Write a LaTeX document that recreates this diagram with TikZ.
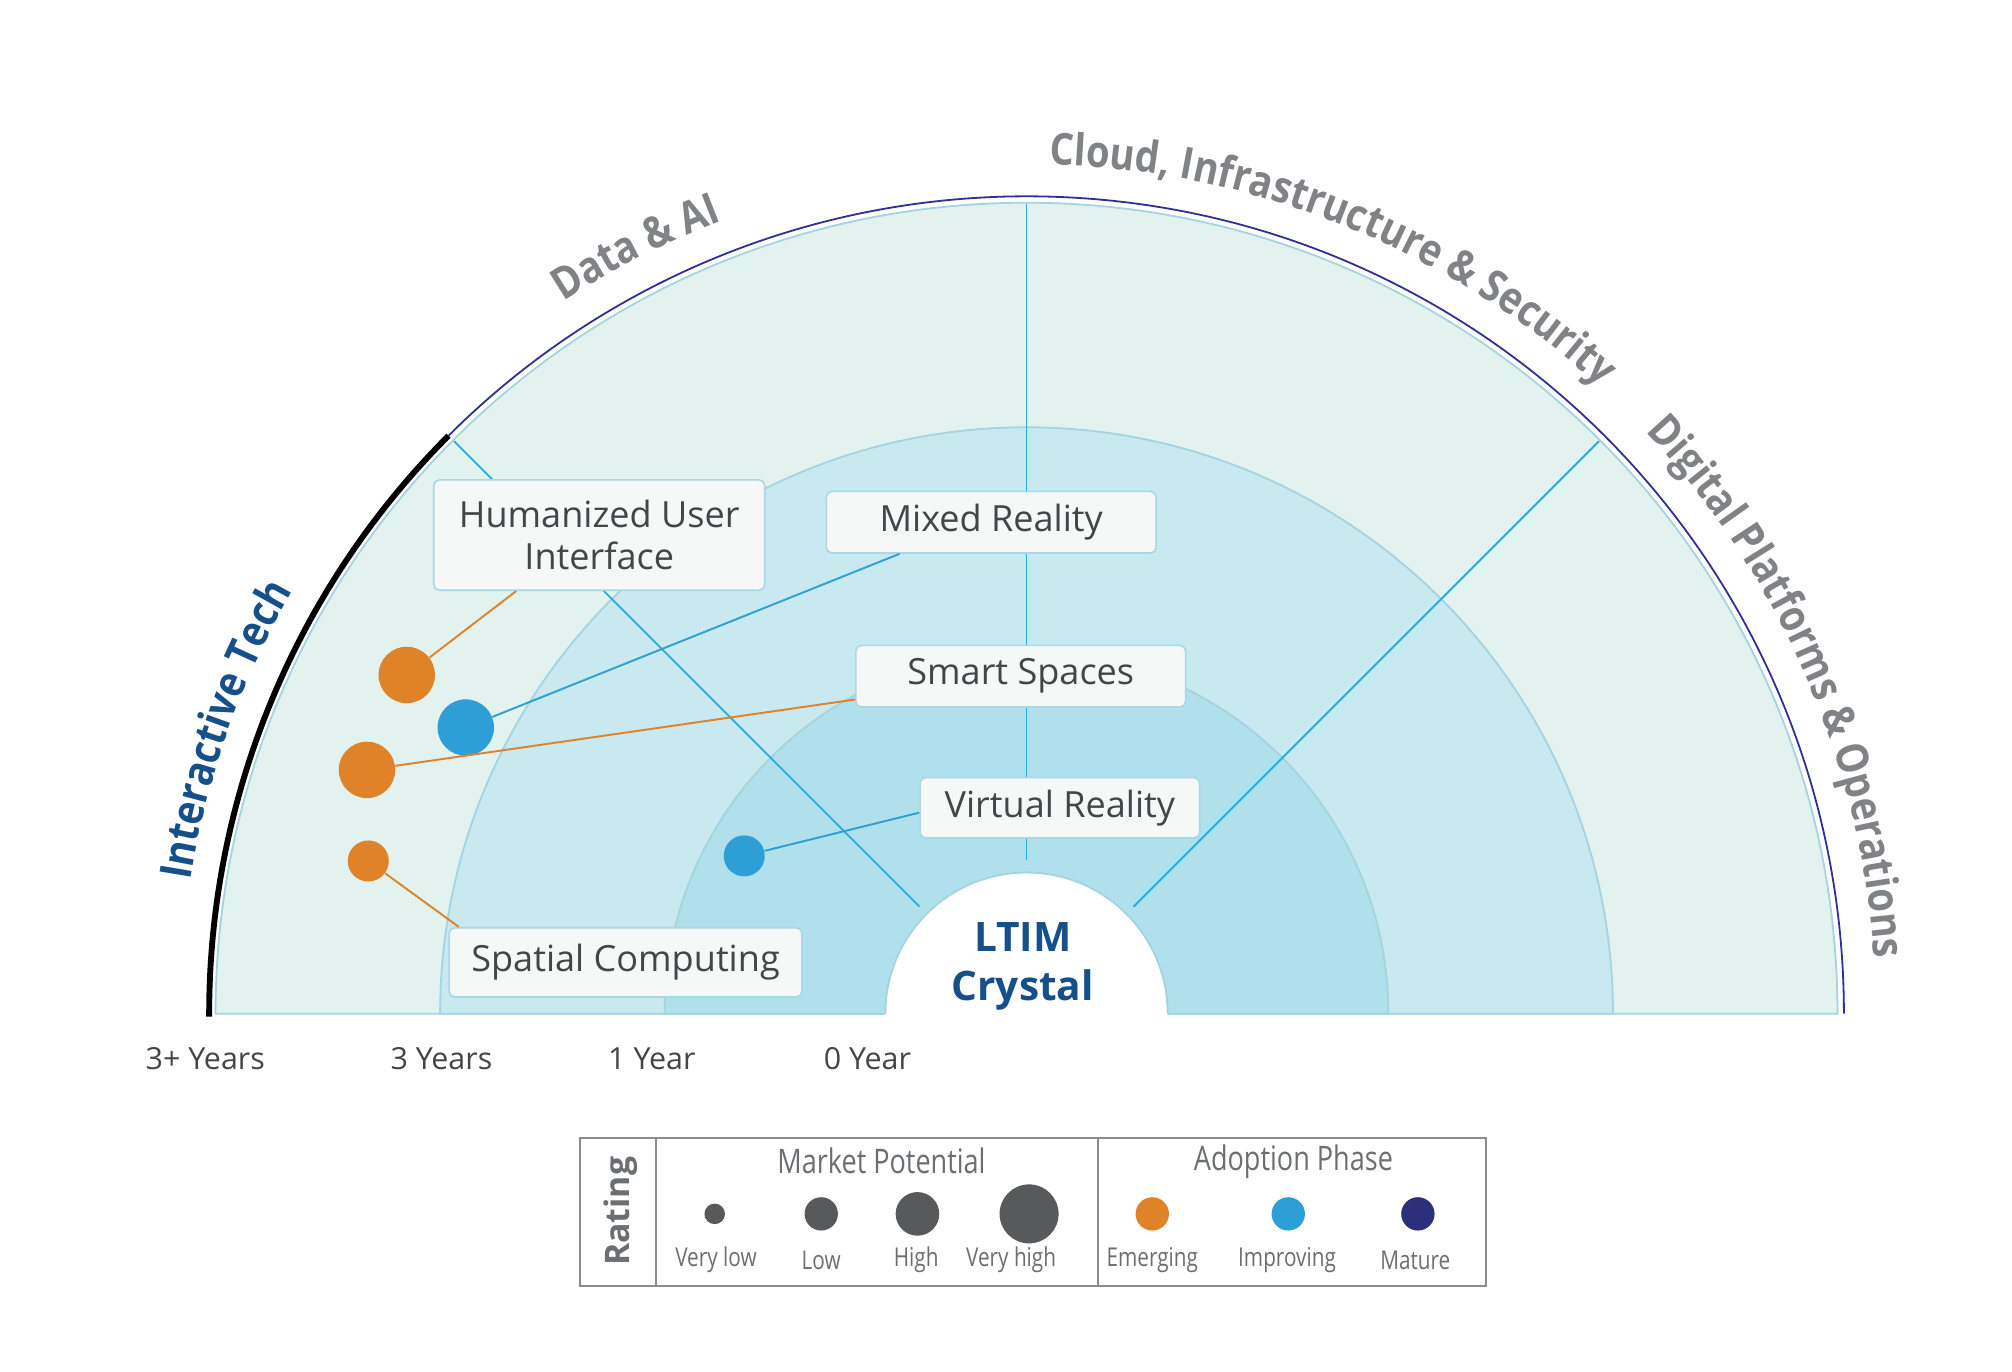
\documentclass[tikz,border=0pt]{standalone}
\usepackage{fontspec}
\setmainfont{Open Sans}
\newfontfamily\narrowfont[FakeStretch=0.8]{Open Sans}
\newfontfamily\sectorfam[FakeStretch=0.87]{Open Sans}
\usetikzlibrary{decorations.text}
\definecolor{ringout}{HTML}{E2F2EF}
\definecolor{ringmid}{HTML}{C7E9EF}
\definecolor{ringin}{HTML}{AFE0EC}
\definecolor{ringline}{HTML}{A5D3DF}
\definecolor{spokeblue}{HTML}{29ABE2}
\definecolor{rimnavy}{HTML}{2E3192}
\definecolor{techblue}{HTML}{16508A}
\definecolor{secgray}{HTML}{808285}
\definecolor{txtgray}{HTML}{454547}
\definecolor{boxfill}{HTML}{F6F8F8}
\definecolor{boxline}{HTML}{A9D7E3}
\definecolor{dotorange}{HTML}{E08228}
\definecolor{dotblue}{HTML}{2E9FD6}
\definecolor{dotnavy}{HTML}{2C2F7A}
\definecolor{markgray}{HTML}{58595B}
\definecolor{leggray}{HTML}{6D6E71}
\definecolor{legline}{HTML}{8C8C8C}
\newcommand\sectorfont{\sectorfam\fontsize{19.5}{22}\selectfont\bfseries}
\tikzset{
  ring/.style={draw=ringline, line width=0.8pt},
  spoke/.style={draw=spokeblue, line width=0.8pt},
  topicbox/.style={draw=boxline, fill=boxfill, rounded corners=2.5pt, line width=0.7pt,
    text=txtgray, font=\fontsize{16}{18.5}\selectfont, align=center, inner sep=0pt},
  blip/.style={circle, inner sep=0pt},
  link/.style={line width=0.85pt},
  yearlabel/.style={text=txtgray, font=\fontsize{13.5}{16}\selectfont},
  legtext/.style={text=leggray, font=\narrowfont\fontsize{11.5}{13}\selectfont},
  leghead/.style={text=leggray, font=\narrowfont\fontsize{15}{17}\selectfont},
  sectortext/.style={decorate, decoration={text along path, text align=center}},
}

\begin{document}
\begin{tikzpicture}[x=0.02cm,y=0.02cm]
\useasboundingbox (-800,-279) rectangle (768,790);
\filldraw[ring, fill=ringout] (632,0) arc[start angle=0, end angle=180, radius=632] -- cycle;
\filldraw[ring, fill=ringmid] (457,0) arc[start angle=0, end angle=180, radius=457] -- cycle;
\filldraw[ring, fill=ringin] (282,0) arc[start angle=0, end angle=180, radius=282] -- cycle;
\fill[white] (110,-3) -- (110,0) arc[start angle=0, end angle=180, radius=110] -- (-110,-3) -- cycle;
\draw[ring] (110,0) arc[start angle=0, end angle=180, radius=110];
\draw[spoke] (45:118) -- (45:631);
\draw[spoke] (90:120) -- (90:631);
\draw[spoke] (135:118) -- (135:631);
\draw[rimnavy, line width=0.8pt] (0:637) arc[start angle=0, end angle=135, radius=637];
\draw[black, line width=2.6pt] (135:637) arc[start angle=135, end angle=180.2, radius=637];

\path[sectortext, decoration={text color=techblue, text={|\sectorfont|Interactive Tech}}]
  (186:660) arc[start angle=186, end angle=135, radius=660];
\path[sectortext, decoration={text color=secgray, text={|\sectorfont|Data {\&} AI}}]
  (143:662) arc[start angle=143, end angle=91, radius=662];
\path[sectortext, decoration={text color=secgray, text={|\sectorfont|Cloud, Infrastructure {\&} Security}}]
  (100:662) arc[start angle=100, end angle=36, radius=662];
\path[sectortext, decoration={text color=secgray, text={|\sectorfont|Digital Platforms {\&} Operations}}]
  (56:662) arc[start angle=56, end angle=-9, radius=662];

\node[text=techblue, font=\fontsize{18}{21.5}\selectfont\bfseries, align=center] (core) at (-3,37) {LTIM\\Crystal};

\node[topicbox, minimum width=5.16cm, minimum height=1.72cm] (hui) at (-333,373) {Humanized User\\Interface};
\node[topicbox, minimum width=5.14cm, minimum height=0.96cm] (mixed) at (-27.5,383) {Mixed Reality};
\node[topicbox, minimum width=5.14cm, minimum height=0.96cm] (smart) at (-4.5,263) {Smart Spaces};
\node[topicbox, minimum width=4.36cm, minimum height=0.94cm] (virtual) at (26,160.5) {Virtual Reality};
\node[topicbox, minimum width=5.50cm, minimum height=1.08cm] (spatial) at (-312.5,40) {Spatial Computing};

\node[blip, fill=dotorange, minimum size=0.88cm] (huidot) at (-483,264) {};
\node[blip, fill=dotblue, minimum size=0.88cm] (mixeddot) at (-437,223) {};
\node[blip, fill=dotorange, minimum size=0.88cm] (smartdot) at (-514,190) {};
\node[blip, fill=dotorange, minimum size=0.64cm] (spatialdot) at (-513,119) {};
\node[blip, fill=dotblue, minimum size=0.64cm] (virtualdot) at (-220,123) {};

\draw[link, dotorange] (huidot) -- (hui.214);
\draw[link, dotblue] (mixeddot) -- (mixed.199);
\draw[link, dotorange] (smartdot) -- (smart.188);
\draw[link, dotblue] (virtualdot) -- (virtual.182);
\draw[link, dotorange] (spatialdot) -- (spatial.168);

\node[yearlabel] (y3plus) at (-640,-35) {3+ Years};
\node[yearlabel] (y3) at (-456,-35) {3 Years};
\node[yearlabel] (y1) at (-292,-35) {1 Year};
\node[yearlabel] (y0) at (-124,-35) {0 Year};

\draw[legline, line width=0.9pt] (-348,-97) rectangle (358,-212);
\draw[legline, line width=0.9pt] (-289,-97) -- (-289,-212);
\draw[legline, line width=0.9pt] (56,-97) -- (56,-212);
\node[rotate=90, text=leggray, font=\fontsize{15}{17}\selectfont\bfseries] (rating) at (-316,-154) {Rating};
\node[leghead] (market) at (-113,-115) {Market Potential};
\node[leghead] (adoption) at (208,-115) {Adoption Phase};
\node[blip, fill=markgray, minimum size=0.32cm] (vlowdot) at (-243,-156) {};
\node[blip, fill=markgray, minimum size=0.52cm] (lowdot) at (-160,-156) {};
\node[blip, fill=markgray, minimum size=0.68cm] (highdot) at (-85,-156) {};
\node[blip, fill=markgray, minimum size=0.92cm] (vhighdot) at (2,-156) {};
\node[legtext] (vlow) at (-242,-192) {Very low};
\node[legtext] (low) at (-160,-192) {Low};
\node[legtext] (high) at (-86,-192) {High};
\node[legtext] (vhigh) at (-12,-192) {Very high};
\node[blip, fill=dotorange, minimum size=0.52cm] (emergdot) at (98,-156) {};
\node[blip, fill=dotblue, minimum size=0.52cm] (improvdot) at (204,-156) {};
\node[blip, fill=dotnavy, minimum size=0.52cm] (maturedot) at (305,-156) {};
\node[legtext] (emerg) at (98,-192) {Emerging};
\node[legtext] (improv) at (203,-192) {Improving};
\node[legtext] (mature) at (303,-192) {Mature};
\end{tikzpicture}
\end{document}
